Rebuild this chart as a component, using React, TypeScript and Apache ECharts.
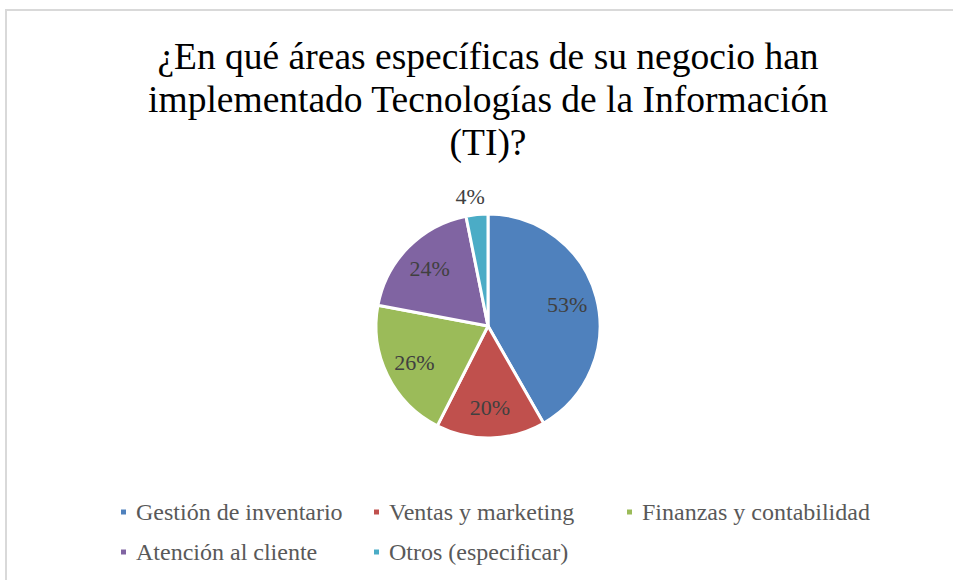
import React, { useEffect, useRef } from "react";
import * as echarts from "echarts";

const titleLines = [
  "¿En qué áreas específicas de su negocio han",
  "implementado Tecnologías de la Información",
  "(TI)?",
];
const categories = [
  "Gestión de inventario",
  "Ventas y marketing",
  "Finanzas y contabilidad",
  "Atención al cliente",
  "Otros (especificar)",
];
const values = [53, 20, 26, 24, 4];
const colors = ["#4F81BD", "#C0504D", "#9BBB59", "#8064A2", "#4BACC6"];
const outsideLabelIndex = 4;

const FONT = "'Liberation Serif', 'Times New Roman', serif";

export default function App() {
  const ref = useRef<HTMLDivElement>(null);
  useEffect(() => {
    document.body.style.margin = "0";
    if (!ref.current) return;
    const chart = echarts.init(ref.current, undefined, { renderer: "svg" });
    const center = [488, 326];
    const mainData = categories.map((name, i) => ({
      name,
      value: values[i],
      itemStyle: { color: colors[i] },
      label: { show: i === outsideLabelIndex },
    }));
    const labelData = categories.map((name, i) => ({
      name,
      value: values[i],
      label: { show: i !== outsideLabelIndex },
    }));
    chart.setOption({
      animation: false,
      backgroundColor: "#ffffff",
      graphic: [
        {
          type: "rect",
          shape: { x: 6, y: 10, width: 1200, height: 1200 },
          style: { fill: "none", stroke: "#d9d9d9", lineWidth: 2 },
          silent: true,
        },
        {
          type: "text",
          x: 488,
          y: 35,
          style: {
            text: titleLines.join("\n"),
            fontFamily: FONT,
            fontSize: 37.5,
            fill: "#000000",
            textAlign: "center",
            textVerticalAlign: "top",
            lineHeight: 43,
          },
          silent: true,
        },
      ],
      legend: {
        data: categories,
        left: 114,
        top: 492,
        width: 820,
        orient: "horizontal",
        icon: "rect",
        itemWidth: 7,
        itemHeight: 7,
        itemGap: 10,
        textStyle: {
          fontFamily: FONT,
          fontSize: 24,
          color: "#595959",
          width: 226,
          lineHeight: 30,
          padding: [0, 0, 0, 4],
        },
      },
      series: [
        {
          type: "pie",
          center,
          radius: [0, 112],
          startAngle: 90,
          clockwise: true,
          avoidLabelOverlap: false,
          itemStyle: { borderColor: "#ffffff", borderWidth: 3 },
          label: {
            position: "outside",
            formatter: "{c}%",
            fontFamily: FONT,
            fontSize: 22,
            color: "#404040",
          },
          labelLine: { show: false, length: 18, length2: 0 },
          labelLayout: (p: any) =>
            p.dataIndex === outsideLabelIndex ? { align: "center" } : {},
          emphasis: { disabled: true },
          data: mainData,
        },
        {
          type: "pie",
          center,
          radius: [0, 158],
          startAngle: 90,
          clockwise: true,
          silent: true,
          z: 5,
          avoidLabelOverlap: false,
          itemStyle: { color: "rgba(0,0,0,0)", borderWidth: 0 },
          label: {
            position: "inside",
            formatter: "{c}%",
            fontFamily: FONT,
            fontSize: 22,
            color: "#404040",
          },
          labelLine: { show: false },
          emphasis: { disabled: true },
          data: labelData,
        },
      ],
    });
    return () => chart.dispose();
  }, []);
  return <div ref={ref} style={{ width: 953, height: 580 }} />;
}
